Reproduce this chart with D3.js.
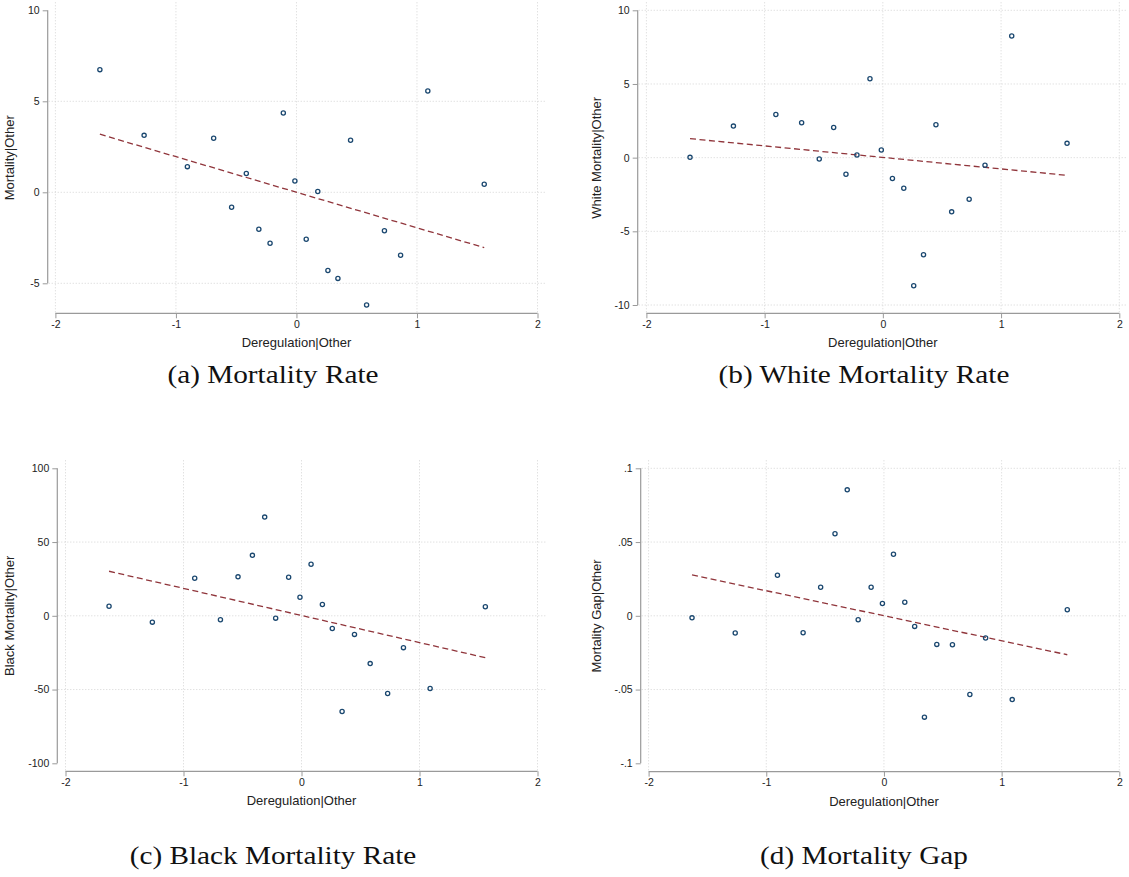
<!DOCTYPE html>
<html>
<head>
<meta charset="utf-8">
<script src="https://cdn.jsdelivr.net/npm/d3@7"></script>
<style>
  html, body { margin: 0; padding: 0; background: #ffffff; }
  svg { display: block; }
</style>
</head>
<body>
<div id="chart"></div>
<script>
// ---------------- DATA ----------------
const deregulation = [-1.631, -1.264, -0.905, -0.687, -0.538, -0.416, -0.312, -0.219, -0.109, -0.013,
                      0.081, 0.177, 0.261, 0.344, 0.449, 0.582, 0.730, 0.864, 1.090, 1.558];

const mortality      = [6.74, 3.13, 1.41, 2.97, -0.82, 1.03, -2.03, -2.80, 4.36, 0.62,
                        -2.58, 0.04, -4.30, -4.73, 2.86, -6.19, -2.11, -3.46, 5.57, 0.44];
const whiteMortality = [0.02, 2.14, 2.93, 2.37, -0.09, 2.05, -1.13, 0.18, 5.35, 0.52,
                        -1.42, -2.08, -8.69, -6.59, 2.23, -3.68, -2.82, -0.52, 8.26, 0.97];
const blackMortality = [6.5, -4.3, 25.5, -2.7, 26.4, 41.0, 66.9, -1.6, 26.1, 12.6,
                        34.9, 7.7, -8.6, -64.9, -12.6, -32.4, -52.7, -21.6, -49.3, 6.1];
const mortalityGap   = [-0.0014, -0.0117, 0.0275, -0.0115, 0.0194, 0.0556, 0.0854, -0.0027, 0.0194, 0.0083,
                        0.0417, 0.0092, -0.0072, -0.0687, -0.0194, -0.0196, -0.0534, -0.0151, -0.0568, 0.0041];

// fitted values of the linear fit at the smallest and largest deregulation value
const fitMortality      = [3.19, -3.04];
const fitWhiteMortality = [1.29, -1.20];
const fitBlackMortality = [30.2, -28.4];
const fitMortalityGap   = [0.0277, -0.0264];

const xTicks = [-2, -1, 0, 1, 2];
const xTickLabels = ["-2", "-1", "0", "1", "2"];

const yTicksA = [10, 5, 0, -5];
const yTickLabelsA = ["10", "5", "0", "-5"];
const yTicksB = [10, 5, 0, -5, -10];
const yTickLabelsB = ["10", "5", "0", "-5", "-10"];
const yTicksC = [100, 50, 0, -50, -100];
const yTickLabelsC = ["100", "50", "0", "-50", "-100"];
const yTicksD = [0.1, 0.05, 0, -0.05, -0.1];
const yTickLabelsD = [".1", ".05", "0", "-.05", "-.1"];

const xTitle = "Deregulation|Other";
const yTitles = ["Mortality|Other", "White Mortality|Other", "Black Mortality|Other", "Mortality Gap|Other"];
const captions = ["(a) Mortality Rate", "(b) White Mortality Rate", "(c) Black Mortality Rate", "(d) Mortality Gap"];

// ---------------- LAYOUT ----------------
const W = 1129, H = 877;
const svg = d3.select("#chart").append("svg").attr("width", W).attr("height", H);

const panels = [
  { y: mortality, fit: fitMortality, ticks: yTicksA, labels: yTickLabelsA, title: yTitles[0], caption: captions[0],
    xr: [55.4, 537.5], yr: [283.3, 10.3], yd: [-5, 10], axisX: 47.7, axisY: 313.3, top: 2.3, titleX: 9.6,
    gridY: [5, 0, -5], capX: 273, capY: 383 },
  { y: whiteMortality, fit: fitWhiteMortality, ticks: yTicksB, labels: yTickLabelsB, title: yTitles[1], caption: captions[1],
    xr: [646.4, 1119.3], yr: [305, 10.3], yd: [-10, 10], axisX: 637.7, axisY: 313.3, top: 2.3, titleX: 596,
    gridY: [10, 5, 0, -5, -10], capX: 864, capY: 383 },
  { y: blackMortality, fit: fitBlackMortality, ticks: yTicksC, labels: yTickLabelsC, title: yTitles[2], caption: captions[2],
    xr: [65.5, 537.5], yr: [763.3, 468.3], yd: [-100, 100], axisX: 57.3, axisY: 771.3, top: 460.3, titleX: 9.6,
    gridY: [50, 0, -50], capX: 273, capY: 864 },
  { y: mortalityGap, fit: fitMortalityGap, ticks: yTicksD, labels: yTickLabelsD, title: yTitles[3], caption: captions[3],
    xr: [648.6, 1119.3], yr: [763.3, 468.3], yd: [-0.1, 0.1], axisX: 640.7, axisY: 771.6, top: 460.3, titleX: 596,
    gridY: [0.1, 0.05, 0, -0.05], capX: 864, capY: 864 }
];

const sans = "'Liberation Sans', Arial, Helvetica, sans-serif";
const axisColor = "#9a9a9a";
const gridColor = "#d4d4d4";
const markerColor = "#1a476f";
const fitColor = "#90353b";

panels.forEach(p => {
  const g = svg.append("g");
  const x = d3.scaleLinear().domain([-2, 2]).range(p.xr);
  const y = d3.scaleLinear().domain(p.yd).range(p.yr);
  const right = p.xr[1] + 8;

  // grid lines
  g.selectAll(".vgrid").data(xTicks).enter().append("line")
    .attr("x1", d => x(d)).attr("x2", d => x(d))
    .attr("y1", p.top).attr("y2", p.axisY)
    .attr("stroke", gridColor).attr("stroke-width", 1).attr("stroke-dasharray", "1,2");
  g.selectAll(".hgrid").data(p.gridY).enter().append("line")
    .attr("x1", p.axisX + 1).attr("x2", right)
    .attr("y1", d => y(d)).attr("y2", d => y(d))
    .attr("stroke", gridColor).attr("stroke-width", 1).attr("stroke-dasharray", "1,2");

  // y axis
  const yAxis = d3.axisLeft(y).tickValues(p.ticks).tickSize(5).tickPadding(3)
    .tickFormat((d, i) => p.labels[i]);
  const ya = g.append("g").attr("transform", `translate(${p.axisX},0)`).call(yAxis);
  ya.select(".domain").remove();
  ya.append("line")
    .attr("x1", 0).attr("x2", 0)
    .attr("y1", y(d3.min(p.ticks))).attr("y2", y(d3.max(p.ticks)))
    .attr("stroke", axisColor).attr("stroke-width", 1.2);
  ya.selectAll(".tick line").attr("stroke", axisColor).attr("stroke-width", 1);
  ya.selectAll(".tick text").attr("fill", "#222").style("font-family", sans).style("font-size", "10.5px");

  // x axis
  const xAxis = d3.axisBottom(x).tickValues(xTicks).tickSize(5).tickPadding(2)
    .tickFormat((d, i) => xTickLabels[i]);
  const xa = g.append("g").attr("transform", `translate(0,${p.axisY})`).call(xAxis);
  xa.select(".domain").remove();
  xa.append("line")
    .attr("x1", x(-2)).attr("x2", x(2)).attr("y1", 0).attr("y2", 0)
    .attr("stroke", axisColor).attr("stroke-width", 1.2);
  xa.selectAll(".tick line").attr("stroke", axisColor).attr("stroke-width", 1);
  xa.selectAll(".tick text").attr("fill", "#222").style("font-family", sans).style("font-size", "10.5px");

  // axis titles
  g.append("text")
    .attr("x", (p.xr[0] + p.xr[1]) / 2).attr("y", p.axisY + 34)
    .attr("text-anchor", "middle").attr("fill", "#222")
    .style("font-family", sans).style("font-size", "13px")
    .text(xTitle);
  g.append("text")
    .attr("transform", `translate(${p.titleX + 4.5},${(p.top + p.axisY) / 2}) rotate(-90)`)
    .attr("text-anchor", "middle").attr("fill", "#222")
    .style("font-family", sans).style("font-size", "13px")
    .text(p.title);

  // fitted line
  const xMin = d3.min(deregulation), xMax = d3.max(deregulation);
  g.append("line")
    .attr("x1", x(xMin)).attr("y1", y(p.fit[0]))
    .attr("x2", x(xMax)).attr("y2", y(p.fit[1]))
    .attr("stroke", fitColor).attr("stroke-width", 1.3).attr("stroke-dasharray", "6,3.5");

  // points
  g.selectAll(".pt").data(deregulation.map((d, i) => [d, p.y[i]])).enter().append("circle")
    .attr("cx", d => x(d[0])).attr("cy", d => y(d[1])).attr("r", 2.1)
    .attr("fill", "none").attr("stroke", markerColor).attr("stroke-width", 1.3);

  // caption
  svg.append("text")
    .attr("transform", `translate(${p.capX},${p.capY}) scale(1.17,1)`)
    .attr("text-anchor", "middle").attr("fill", "#111")
    .style("font-family", "'Liberation Serif', 'Times New Roman', serif")
    .style("font-size", "25px")
    .text(p.caption);
});
</script>
</body>
</html>
